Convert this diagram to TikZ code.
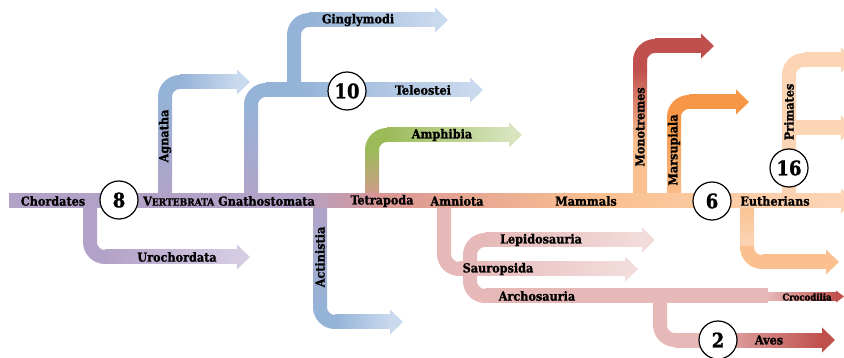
\documentclass[tikz,border=0pt]{standalone}
\usepackage{fontspec}
\setmainfont{DejaVu Serif Condensed}[BoldFeatures={FakeBold=1.2}]
\definecolor{purp}{HTML}{B3A2C7}
\definecolor{lpurp}{HTML}{D5CCE4}
\definecolor{blu}{HTML}{95B3D7}
\definecolor{lblu}{HTML}{C9D9EE}
\definecolor{grn}{HTML}{9BBB59}
\definecolor{lgrn}{HTML}{D7E4BD}
\definecolor{pinkred}{HTML}{D99694}
\definecolor{rosy}{HTML}{E6B9B8}
\definecolor{lrosy}{HTML}{F2DCDB}
\definecolor{dred}{HTML}{C0504D}
\definecolor{orng}{HTML}{F79646}
\definecolor{peach}{HTML}{FAC090}
\definecolor{lpeach}{HTML}{FCD5B5}
\newcommand\myVB[5]{\shade[top color=#4,bottom color=#5] ({#1-7},{#2}) rectangle ({#1+7},{#3});}
\newcommand\myHB[5]{\shade[left color=#4,right color=#5] ({#2},{#1-7}) rectangle ({#3},{#1+7});}
\newcommand\myAH[3]{\fill[#3] ({#1-13},{#2-12.5}) -- ({#1},{#2}) -- ({#1-13},{#2+12.5}) -- cycle;}
\newcommand\myCR[4]{\draw[#1,line width=14pt,rounded corners=15pt] #2 -- #3 -- #4;}
\tikzset{
  lbl/.style={inner sep=0pt,font=\bfseries\fontsize{12.5}{14}\selectfont,text=black},
  circ/.style={circle,draw=black,fill=white,line width=1.2pt,minimum size=38pt,inner sep=0pt,font=\bfseries\fontsize{20}{22}\selectfont}
}
\begin{document}
\begin{tikzpicture}[x=1pt,y=-1pt]
\useasboundingbox (0,0) rectangle (844,358);
\clip (0,0) rectangle (844,358);
% Urochordata
\myVB{90}{201}{242}{purp}{purp}
\myCR{purp}{(90,241)}{(90,257)}{(106,257)}
\myHB{257}{105}{237}{purp}{lpurp}
\myAH{250}{257}{lpurp}
% Agnatha
\myVB{165}{97}{201}{blu}{purp}
\myCR{blu}{(165,98)}{(165,82)}{(181,82)}
\myHB{82}{180}{237}{blu}{lblu}
\myAH{250}{82}{lblu}
% Ginglymodi
\myVB{294}{35}{90}{blu}{blu}
\myCR{blu}{(294,36)}{(294,20)}{(310,20)}
\myHB{20}{309}{435}{blu}{lblu}
\myAH{448}{20}{lblu}
% Gnathostomata / Teleostei
\myVB{251}{105}{201}{blu}{purp}
\myCR{blu}{(251,106)}{(251,90)}{(267,90)}
\myHB{90}{266}{300}{blu}{blu}
\myHB{90}{300}{470}{blu}{lblu}
\myAH{483}{90}{lblu}
% Actinistia
\myVB{320}{201}{307}{purp}{blu}
\myCR{blu}{(320,306)}{(320,322)}{(336,322)}
\myHB{322}{335}{390}{blu}{lblu}
\myAH{403}{322}{lblu}
% Amphibia
\myVB{372}{150}{201}{grn}{pinkred}
\myCR{grn}{(372,151)}{(372,135)}{(388,135)}
\myHB{135}{387}{509}{grn}{lgrn}
\myAH{522}{135}{lgrn}
% Amniota / Sauropsida
\myVB{444}{201}{254}{rosy}{rosy}
\myCR{rosy}{(444,253)}{(444,269)}{(460,269)}
\myHB{269}{459}{625}{rosy}{lrosy}
\myAH{638}{269}{lrosy}
% Lepidosauria / Archosauria
\myCR{rosy}{(486,240)}{(470,240)}{(470,256)}
\myVB{470}{255}{281}{rosy}{rosy}
\myCR{rosy}{(470,280)}{(470,296)}{(486,296)}
\myHB{240}{485}{642}{rosy}{lrosy}
\myAH{655}{240}{lrosy}
% Aves
\myVB{660}{296}{325}{rosy}{rosy}
\myCR{rosy}{(660,324)}{(660,340)}{(676,340)}
\myHB{340}{675}{700}{rosy}{rosy}
\myHB{340}{700}{822}{rosy}{dred}
\myAH{835}{340}{dred}
\myHB{296}{485}{768}{rosy}{rosy}
% Crocodilia
\shade[left color=rosy,right color=dred] (767,292.5) rectangle (837,300.5);
\fill[dred] (836,290.5) -- (844,296.5) -- (836,302.5) -- cycle;
% Monotremes
\myVB{640}{140}{201}{peach}{peach}
\myVB{640}{70}{141}{dred}{peach}
\myVB{640}{61}{71}{dred}{dred}
\myCR{dred}{(640,62)}{(640,46)}{(656,46)}
\myHB{46}{655}{701}{dred}{dred}
\myAH{714}{46}{dred}
% Marsupiala
\myVB{674}{117}{201}{orng}{peach}
\myCR{orng}{(674,118)}{(674,102)}{(690,102)}
\myHB{102}{689}{736}{orng}{orng}
\myAH{749}{102}{orng}
% Eutherians down
\myVB{747}{201}{247}{peach}{lpeach}
\myCR{peach}{(747,246)}{(747,262)}{(763,262)}
\myHB{262}{762}{826}{peach}{peach}
\myAH{839}{262}{peach}
% Primates
\myVB{789}{75}{201}{lpeach}{lpeach}
\myCR{lpeach}{(789,76)}{(789,60)}{(805,60)}
\myHB{60}{804}{841}{lpeach}{lpeach}
\myAH{854}{60}{lpeach}
\myHB{128}{789}{841}{lpeach}{lpeach}
\myAH{854}{128}{lpeach}
% trunk
\myHB{201}{9}{300}{purp}{purp}
\myHB{201}{299}{381}{purp}{pinkred}
\myHB{201}{380}{601}{pinkred}{peach}
\myHB{201}{600}{841}{peach}{lpeach}
\myAH{854}{201}{lpeach}
% circles
\node[circ] (c8) at (119,200) {8};
\node[circ] (c10) at (347,91) {10};
\node[circ] (c2) at (718,340) {2};
\node[circ] (c6) at (712,201) {6};
\node[circ] (c16) at (789,168) {16};
% labels
\node[lbl] (chord) at (53,201) {Chordates};
\node[lbl,anchor=west] (vert) at (143,201) {V{\fontsize{10}{12}\selectfont ERTEBRATA} Gnathostomata};
\node[lbl] (tetra) at (382,201) {Tetrapoda};
\node[lbl] (amnio) at (457,201) {Amniota};
\node[lbl] (mamm) at (586,201) {Mammals};
\node[lbl] (euth) at (775,201) {Eutherians};
\node[lbl] (uro) at (177,257) {Urochordata};
\node[lbl] (ging) at (358,20) {Ginglymodi};
\node[lbl] (tele) at (423,90) {Teleostei};
\node[lbl] (amph) at (442,135) {Amphibia};
\node[lbl] (lepi) at (541,240) {Lepidosauria};
\node[lbl] (saur) at (498,269) {Sauropsida};
\node[lbl] (arch) at (537,296) {Archosauria};
\node[lbl,font=\bfseries\fontsize{9.5}{11}\selectfont] (croc) at (807,297) {Crocodilia};
\node[lbl] (aves) at (769,340) {Aves};
\node[lbl,rotate=90] (agna) at (165,136) {Agnatha};
\node[lbl,rotate=90] (acti) at (320,257) {Actinistia};
\node[lbl,rotate=90] (mono) at (640,127) {Monotremes};
\node[lbl,rotate=90] (mars) at (674,150) {Marsupiala};
\node[lbl,rotate=90] (prim) at (789,112) {Primates};
\end{tikzpicture}
\end{document}
